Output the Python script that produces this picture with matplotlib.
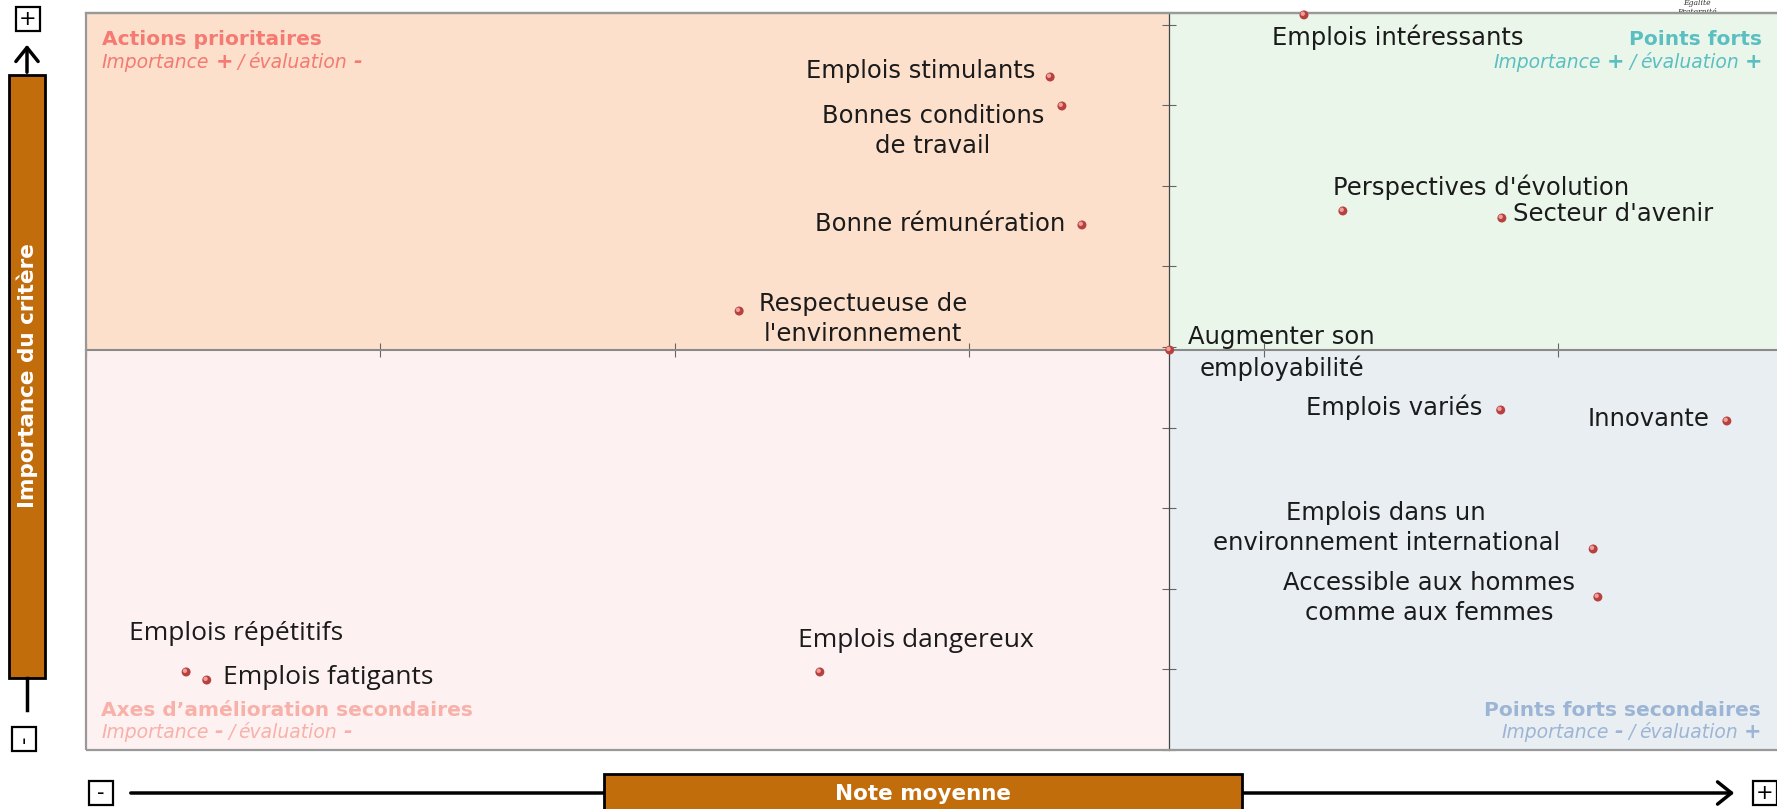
import matplotlib
matplotlib.use("Agg")
import matplotlib.pyplot as plt
import matplotlib.transforms as mtrans
from matplotlib.patches import Rectangle, FancyArrowPatch

W, H = 1777, 809

# ── Data ─────────────────────────────────────────────────────────────────────
CRITERES = [
    "Emplois stimulants",
    "Bonnes conditions\nde travail",
    "Bonne rémunération",
    "Respectueuse de\nl'environnement",
    "Emplois intéressants",
    "Perspectives d'évolution",
    "Secteur d'avenir",
    "Augmenter son\nemployabilité",
    "Emplois variés",
    "Innovante",
    "Emplois dans un\nenvironnement international",
    "Accessible aux hommes\ncomme aux femmes",
    "Emplois répétitifs",
    "Emplois fatigants",
    "Emplois dangereux",
]
NOTE = [7.637, 7.657, 7.691, 7.109, 8.068, 8.134, 8.404, 7.840,
        8.402, 8.786, 8.559, 8.567, 6.170, 6.205, 7.246]
IMPORTANCE = [4.175, 3.995, 3.257, 2.723, 4.560, 3.344, 3.300, 2.481,
              2.109, 2.041, 1.247, 0.949, 0.484, 0.434, 0.484]

NOTE_MOY = 7.839
IMPORTANCE_MOY = 2.481
X_TICKS = [6.0, 6.5, 7.0, 7.5, 8.0, 8.5]
Y_TICKS = [0.0, 0.5, 1.0, 1.5, 2.0, 2.5, 3.0, 3.5, 4.0, 4.5]
X_LIM = (6.0, 8.9)
Y_LIM = (0.0, 4.575)

# label placement: offset right/up in pixels, alignment, font, size
LABEL_POS = [
    (-15, 6, "right", "DejaVu Sans", 17.5),
    (-129, -25, "center", "DejaVu Sans", 17.5),
    (-17, 1, "right", "DejaVu Sans", 17.5),
    (124, -8, "center", "DejaVu Sans", 17.5),
    (94, -22, "center", "DejaVu Sans", 17.5),
    (-10, 24, "left", "DejaVu Sans", 17.5),
    (11, 4, "left", "DejaVu Sans", 17.5),
    (112, -3, "center", "DejaVu Sans", 17.5),
    (-18, 3, "right", "DejaVu Sans", 17.5),
    (-17, 2, "right", "DejaVu Sans", 17.5),
    (-207, 21, "center", "DejaVu Sans", 17.5),
    (-169, -1, "center", "DejaVu Sans", 17.5),
    (-57, 38, "left", "Open Sans", 19),
    (16, 3, "left", "Open Sans", 19),
    (96, 31, "center", "Open Sans", 19),
]

# quadrant fills / titles
Q_FILL = {"tl": "#FCE0CC", "tr": "#EBF6EA", "bl": "#FEF1F1", "br": "#E9EEF3"}
Q_TEXT = {"tl": "#F47A72", "tr": "#5BBFC1", "bl": "#F8B1A9", "br": "#9DB5D5"}
BROWN = "#C26D0C"

fig = plt.figure(figsize=(W / 100, H / 100), dpi=100)


def pixel_axes(z):
    a = fig.add_axes([0, 0, 1, 1], zorder=z)
    a.set_xlim(0, W)
    a.set_ylim(H, 0)
    a.axis("off")
    return a


# overlay axes in pixel coordinates: decorations below, quadrant titles above
deco = pixel_axes(0)
top = pixel_axes(2)

ax = fig.add_axes([86 / W, (H - 750) / H, 1708 / W, (750 - 12.5) / H], zorder=1)
ax.set_xlim(*X_LIM)
ax.set_ylim(*Y_LIM)
ax.patch.set_visible(False)

x0, x1 = X_LIM
y0, y1 = Y_LIM
ax.add_patch(Rectangle((x0, IMPORTANCE_MOY), NOTE_MOY - x0, y1 - IMPORTANCE_MOY,
                       color=Q_FILL["tl"], lw=0, zorder=0))
ax.add_patch(Rectangle((NOTE_MOY, IMPORTANCE_MOY), x1 - NOTE_MOY, y1 - IMPORTANCE_MOY,
                       color=Q_FILL["tr"], lw=0, zorder=0))
ax.add_patch(Rectangle((x0, y0), NOTE_MOY - x0, IMPORTANCE_MOY - y0,
                       color=Q_FILL["bl"], lw=0, zorder=0))
ax.add_patch(Rectangle((NOTE_MOY, y0), x1 - NOTE_MOY, IMPORTANCE_MOY - y0,
                       color=Q_FILL["br"], lw=0, zorder=0))

# axes crossing at the means
ax.spines["left"].set_position(("data", NOTE_MOY))
ax.spines["bottom"].set_position(("data", IMPORTANCE_MOY))
ax.spines["left"].set_color("#444444")
ax.spines["left"].set_linewidth(0.9)
ax.spines["bottom"].set_color("#8a8a8a")
ax.spines["bottom"].set_linewidth(1.5)
ax.spines["top"].set_color("#999999")
ax.spines["top"].set_linewidth(1.6)
ax.spines["right"].set_visible(False)
ax.set_xticks(X_TICKS)
ax.set_yticks(Y_TICKS)
ax.tick_params(direction="inout", length=10, width=0.8, color="#666666",
               labelleft=False, labelbottom=False)
ax.add_patch(Rectangle((0, 0), 1, 1, transform=ax.transAxes, fill=False,
                       edgecolor="#999999", lw=1.6, clip_on=False, zorder=3))

# points (little shaded spheres)
ax.scatter(NOTE, IMPORTANCE, s=42, color="#B6413F", edgecolor="none",
           zorder=5, clip_on=False)
hl = ax.transData + mtrans.ScaledTranslation(-0.012, 0.012, fig.dpi_scale_trans)
ax.scatter(NOTE, IMPORTANCE, s=10, color="#EE9F9C", edgecolor="none",
           zorder=6, clip_on=False, transform=hl)

for name, x, y, (dx, dy, ha, fam, fs) in zip(CRITERES, NOTE, IMPORTANCE, LABEL_POS):
    ax.annotate(name, xy=(x, y), xytext=(dx, dy), textcoords="offset pixels",
                ha=ha, va="center", multialignment="center", linespacing=1.3,
                fontsize=fs, family=fam, color="#1b1b1b", zorder=7)


def styled_line(x, y, pieces, ha, color, size):
    """pieces: (text, weight, gap before in px); baseline at y."""
    def kw(w):
        return dict(color=color, fontsize=size + (1.5 if w == "bold" else 0),
                    style="italic", weight=w, zorder=8)
    if ha == "left":
        txt, w, _ = pieces[0]
        t = top.text(x, y, txt, ha="left", va="baseline", **kw(w))
        for txt, w, gap in pieces[1:]:
            t = top.annotate(txt, xy=(1, 0), xycoords=t, xytext=(gap, 0),
                             textcoords="offset pixels", ha="left", va="bottom",
                             **kw(w))
    else:
        txt, w, gap = pieces[-1]
        t = top.text(x, y, txt, ha="right", va="baseline", **kw(w))
        for (txt, w, g) in reversed(pieces[:-1]):
            t = top.annotate(txt, xy=(0, 0), xycoords=t, xytext=(-gap, 0),
                             textcoords="offset pixels", ha="right", va="bottom",
                             **kw(w))
            gap = g


def subtitle(imp, ev):
    return [("Importance", "normal", 0), (imp, "bold", 6), ("/", "normal", 5),
            ("évaluation", "normal", 4), (ev, "bold", 6)]


top.text(102, 45, "Actions prioritaires", ha="left", va="baseline",
         fontsize=14.5, weight="bold", color=Q_TEXT["tl"], zorder=8)
styled_line(102, 68, subtitle("+", "-"), "left", Q_TEXT["tl"], 13.5)
top.text(1762, 45, "Points forts", ha="right", va="baseline",
         fontsize=14.5, weight="bold", color=Q_TEXT["tr"], zorder=8)
styled_line(1762, 68, subtitle("+", "+"), "right", Q_TEXT["tr"], 13.5)
top.text(101, 716, "Axes d’amélioration secondaires", ha="left", va="baseline",
         fontsize=14.5, weight="bold", color=Q_TEXT["bl"], zorder=8)
styled_line(101, 738, subtitle("-", "-"), "left", Q_TEXT["bl"], 13.5)
top.text(1761, 716, "Points forts secondaires", ha="right", va="baseline",
         fontsize=14.5, weight="bold", color=Q_TEXT["br"], zorder=8)
styled_line(1761, 738, subtitle("-", "+"), "right", Q_TEXT["br"], 13.5)

# ── vertical axis decoration ────────────────────────────────────────────────
deco.add_patch(Rectangle((9, 75), 36, 603, fc=BROWN, ec="black", lw=2, zorder=2))
deco.text(27, 376, "Importance du critère", rotation=90, ha="center", va="center",
          color="white", fontsize=15.5, weight="bold", zorder=3)
deco.add_patch(FancyArrowPatch((27, 75), (27, 42), arrowstyle="->,head_length=0.5,head_width=0.4",
                               mutation_scale=20, lw=2.5, color="black", zorder=2))
deco.plot([27, 27], [678, 710], color="black", lw=2.5, zorder=2)


def sign_box(cx, cy, sign, rot=0):
    deco.add_patch(Rectangle((cx - 12, cy - 12), 24, 24, fc="white", ec="black",
                             lw=1.6, zorder=2))
    deco.text(cx, cy, sign, ha="center", va="center", fontsize=15, rotation=rot,
              color="black", zorder=3)


sign_box(28, 19, "+")
sign_box(24, 739, "-", rot=90)

# ── horizontal axis decoration ──────────────────────────────────────────────
deco.add_patch(FancyArrowPatch((128, 793), (1737, 793), arrowstyle="->,head_length=0.5,head_width=0.4",
                               mutation_scale=20, lw=2.5, color="black", zorder=2))
sign_box(101, 793, "-")
sign_box(1765, 793, "+")
deco.add_patch(Rectangle((604, 774), 638, 60, fc=BROWN, ec="black", lw=2,
                         zorder=3, clip_on=False))
deco.text(923, 794, "Note moyenne", ha="center", va="center", color="white",
          fontsize=15.5, weight="bold", zorder=4)

# partial logo in the top right corner
deco.text(1697, 2, "Égalité", ha="center", va="center", fontsize=5.5,
          family="DejaVu Serif", style="italic", color="#333333")
deco.text(1697, 12, "Fraternité", ha="center", va="center", fontsize=5.5,
          family="DejaVu Serif", style="italic", color="#333333")

fig.savefig("out.png", dpi=100)
